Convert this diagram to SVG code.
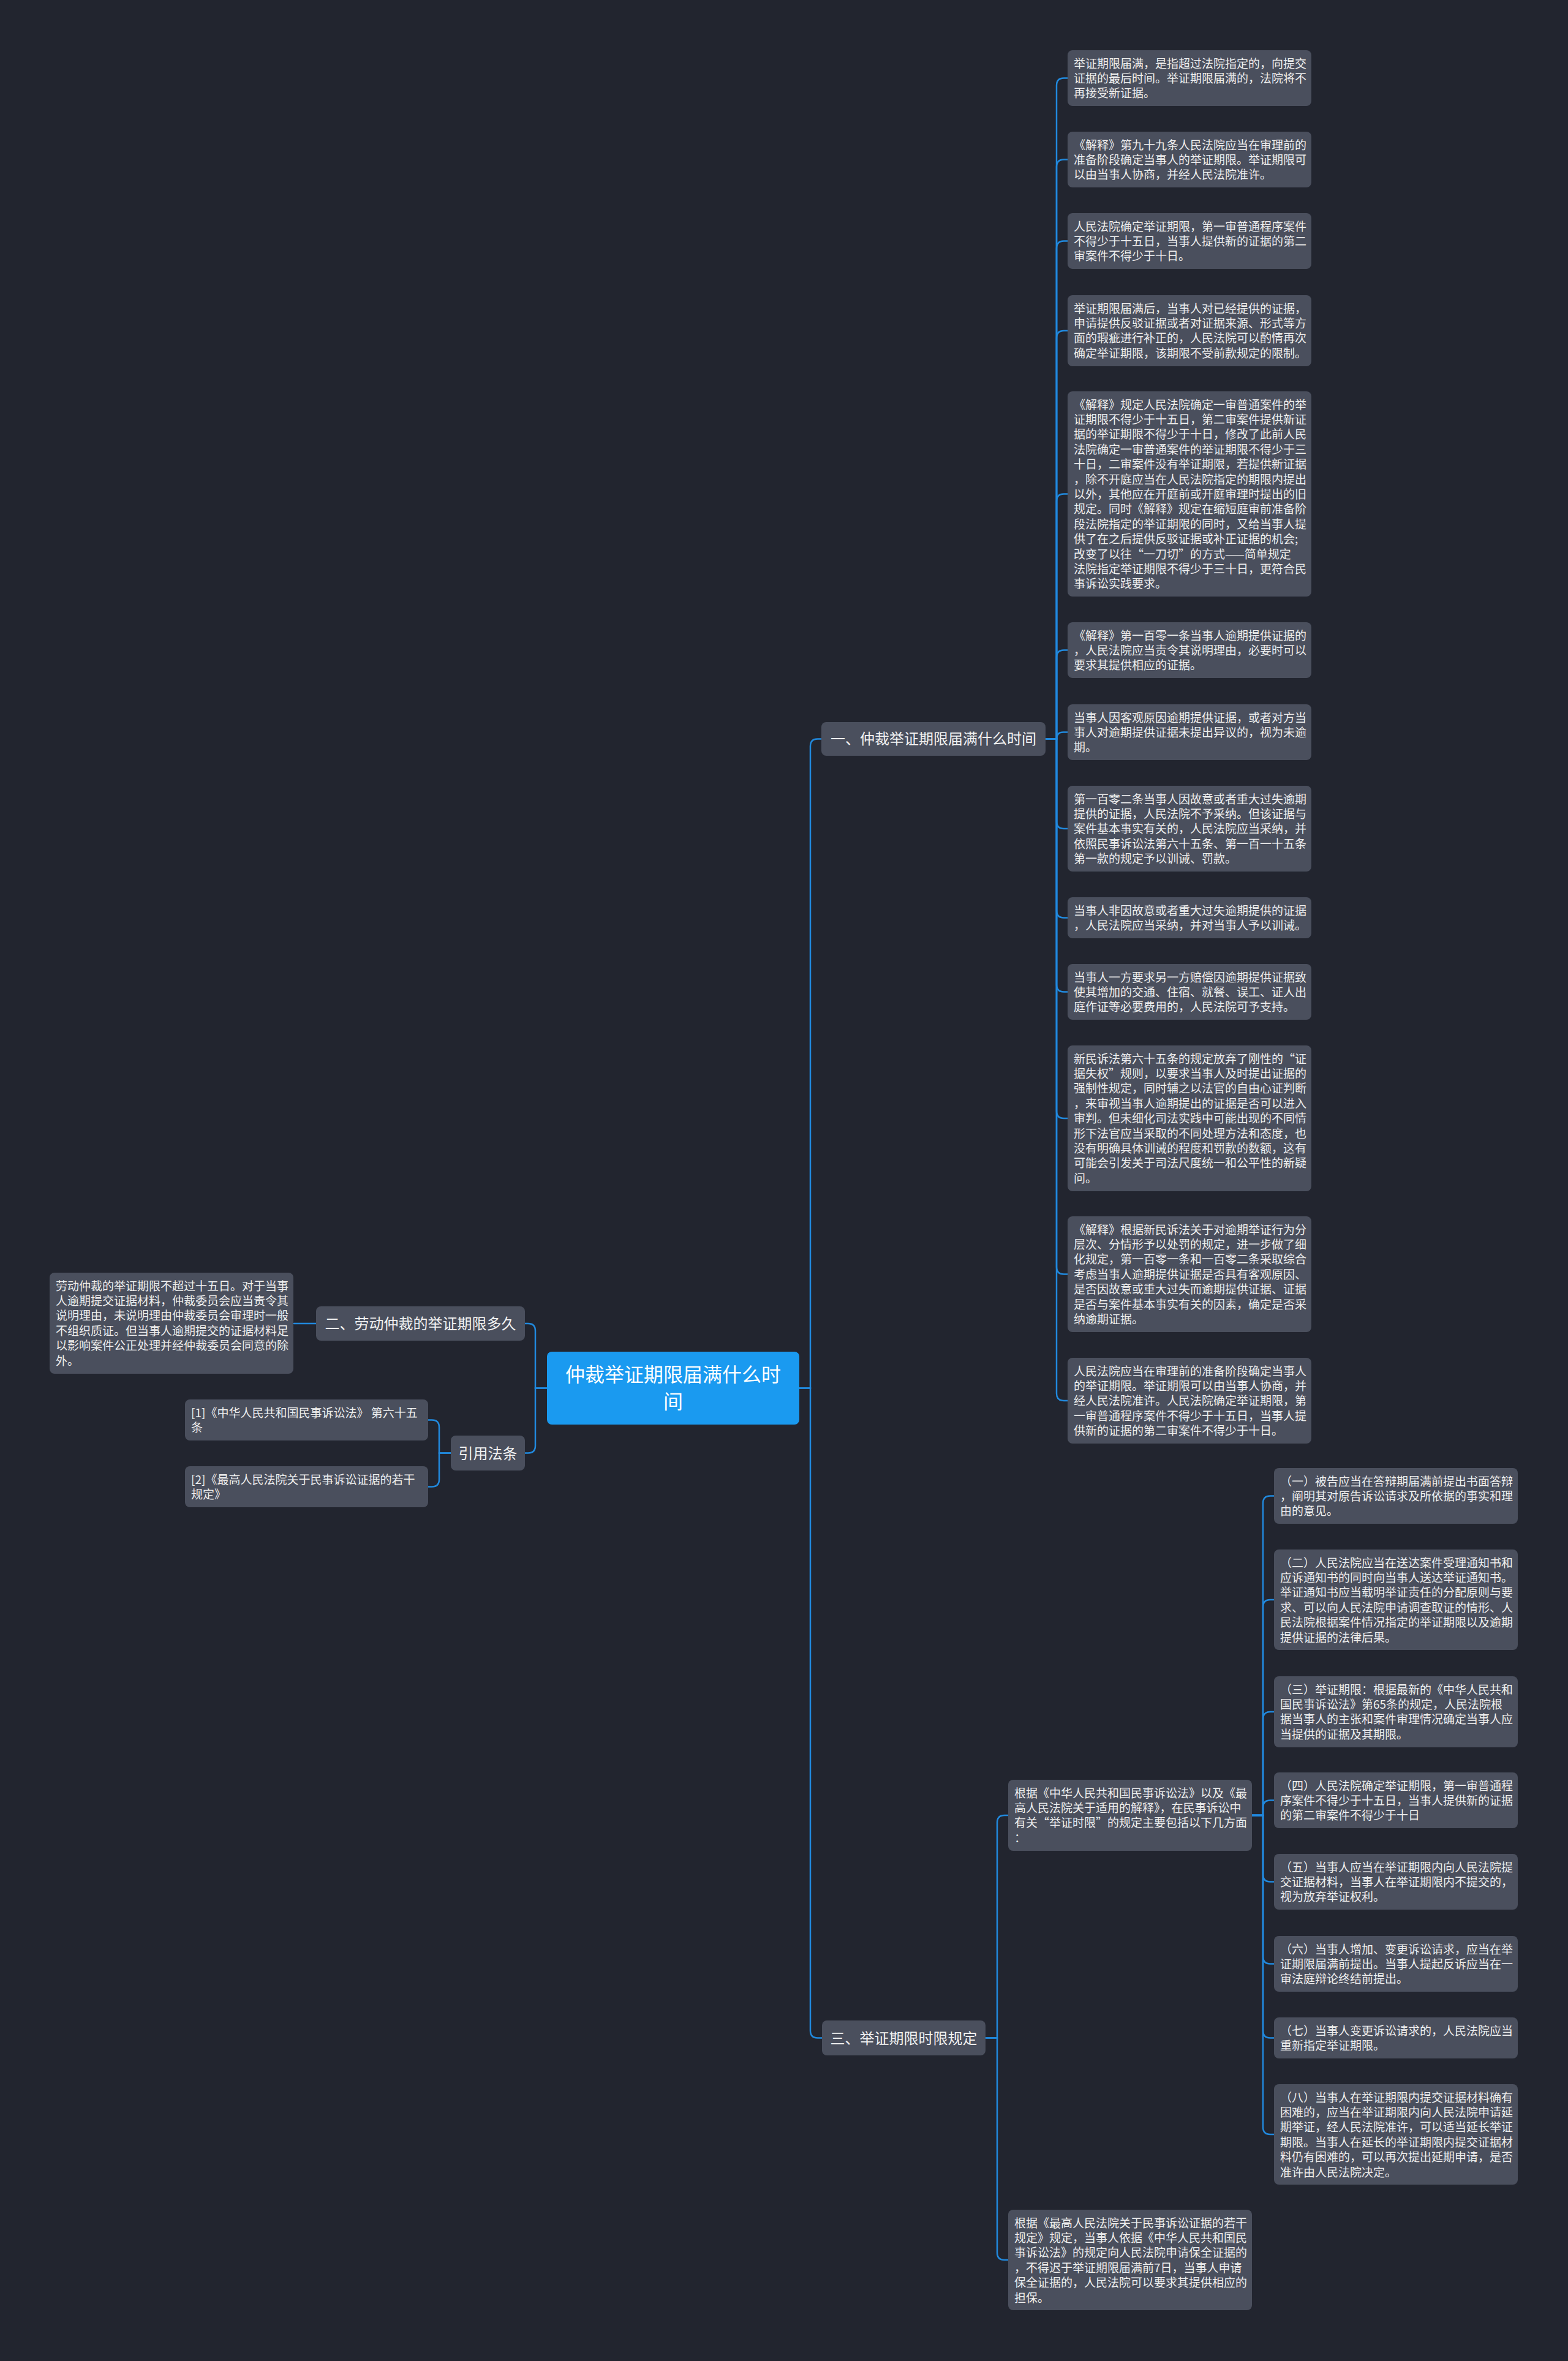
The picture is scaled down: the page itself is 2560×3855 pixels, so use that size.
<svg xmlns="http://www.w3.org/2000/svg" width="2560" height="3855" viewBox="0 0 2560 3855">
<style>
.bg{fill:#22252f}
.box{fill:#4a4f5d}
.root{fill:#1a9af0}
.t{font-family:"Noto Sans CJK SC","Liberation Sans",sans-serif;font-size:19px;fill:#eeeeee}
.b{font-family:"Noto Sans CJK SC","Liberation Sans",sans-serif;font-size:24px;fill:#f2f2f2}
.r{font-family:"Noto Sans CJK SC","Liberation Sans",sans-serif;font-size:32px;fill:#ffffff}
.c path{fill:none;stroke:#2189dd;stroke-width:2.5;stroke-linecap:round}
</style>
<rect class="bg" x="0" y="0" width="2560" height="3855"/>
<g class="c" id="connectors">
<path d="M1305,2266.5H1323V1218.5Q1323,1206.5 1335,1206.5H1341"/>
<path d="M1305,2266.5H1323V3315.5Q1323,3327.5 1335,3327.5H1342"/>
<path d="M893,2266.5H874V2173Q874,2161 862,2161H857"/>
<path d="M893,2266.5H874V2360.5Q874,2372.5 862,2372.5H857"/>
<path d="M480,2161H516"/>
<path d="M736,2372.5H717V2330.5Q717,2318.5 705,2318.5H699"/>
<path d="M736,2372.5H717V2415.5Q717,2427.5 705,2427.5H699"/>
<path d="M1707,1206.5H1725V139.5Q1725,127.5 1737,127.5H1743"/>
<path d="M1707,1206.5H1725V272.5Q1725,260.5 1737,260.5H1743"/>
<path d="M1707,1206.5H1725V405.5Q1725,393.5 1737,393.5H1743"/>
<path d="M1707,1206.5H1725V552Q1725,540 1737,540H1743"/>
<path d="M1707,1206.5H1725V818.5Q1725,806.5 1737,806.5H1743"/>
<path d="M1707,1206.5H1725V1073.5Q1725,1061.5 1737,1061.5H1743"/>
<path d="M1707,1206.5H1725Q1725,1195.5 1736,1195.5H1743"/>
<path d="M1707,1206.5H1725V1341Q1725,1353 1737,1353H1743"/>
<path d="M1707,1206.5H1725V1486.5Q1725,1498.5 1737,1498.5H1743"/>
<path d="M1707,1206.5H1725V1607.5Q1725,1619.5 1737,1619.5H1743"/>
<path d="M1707,1206.5H1725V1814Q1725,1826 1737,1826H1743"/>
<path d="M1707,1206.5H1725V2068.5Q1725,2080.5 1737,2080.5H1743"/>
<path d="M1707,1206.5H1725V2275Q1725,2287 1737,2287H1743"/>
<path d="M1609,3327.5H1628V2976Q1628,2964 1640,2964H1646"/>
<path d="M1609,3327.5H1628V3678Q1628,3690 1640,3690H1646"/>
<path d="M2044,2964H2062V2454.5Q2062,2442.5 2074,2442.5H2080"/>
<path d="M2044,2964H2062V2624Q2062,2612 2074,2612H2080"/>
<path d="M2044,2964H2062V2807Q2062,2795 2074,2795H2080"/>
<path d="M2044,2964H2062V2951.5Q2062,2939.5 2074,2939.5H2080"/>
<path d="M2044,2964H2062V3060.5Q2062,3072.5 2074,3072.5H2080"/>
<path d="M2044,2964H2062V3194.5Q2062,3206.5 2074,3206.5H2080"/>
<path d="M2044,2964H2062V3315.5Q2062,3327.5 2074,3327.5H2080"/>
<path d="M2044,2964H2062V3473Q2062,3485 2074,3485H2080"/>
</g>

<g id="root">
<rect class="root" x="893" y="2207" width="412" height="119" rx="8"/>
<text class="r" text-anchor="middle"><tspan x="1099" y="2256">仲裁举证期限届满什么时</tspan><tspan x="1099" y="2300">间</tspan></text>
</g>

<g id="branch1">
<rect class="box" x="1341" y="1179" width="366" height="55" rx="8"/>
<text class="b" x="1524" y="1215" text-anchor="middle">一、仲裁举证期限届满什么时间</text>
</g>
<g id="branch2">
<rect class="box" x="516" y="2133" width="341" height="56" rx="8"/>
<text class="b" x="686.5" y="2170" text-anchor="middle">二、劳动仲裁的举证期限多久</text>
</g>
<g id="branch-cite">
<rect class="box" x="736" y="2344" width="121" height="57" rx="8"/>
<text class="b" x="796.5" y="2381.5" text-anchor="middle">引用法条</text>
</g>
<g id="branch3">
<rect class="box" x="1342" y="3299" width="267" height="57" rx="8"/>
<text class="b" x="1475.5" y="3336.5" text-anchor="middle">三、举证期限时限规定</text>
</g>

<g id="labor">
<rect class="box" x="81" y="2078" width="398" height="165" rx="8"/>
<text class="t"><tspan x="91" y="2106.5">劳动仲裁的举证期限不超过十五日。对于当事</tspan><tspan x="91" dy="24.4">人逾期提交证据材料，仲裁委员会应当责令其</tspan><tspan x="91" dy="24.4">说明理由，未说明理由仲裁委员会审理时一般</tspan><tspan x="91" dy="24.4">不组织质证。但当事人逾期提交的证据材料足</tspan><tspan x="91" dy="24.4">以影响案件公正处理并经仲裁委员会同意的除</tspan><tspan x="91" dy="24.4">外。</tspan></text>
</g>
<g id="cite1">
<rect class="box" x="302" y="2285" width="397" height="67" rx="8"/>
<text class="t"><tspan x="312" y="2313.5">[1]《中华人民共和国民事诉讼法》 第六十五</tspan><tspan x="312" dy="24.4">条</tspan></text>
</g>
<g id="cite2">
<rect class="box" x="302" y="2394" width="397" height="67" rx="8"/>
<text class="t"><tspan x="312" y="2422.5">[2]《最高人民法院关于民事诉讼证据的若干</tspan><tspan x="312" dy="24.4">规定》</tspan></text>
</g>

<g id="n1">
<rect class="box" x="1743" y="82" width="398" height="91" rx="8"/>
<text class="t"><tspan x="1753" y="110.5">举证期限届满，是指超过法院指定的，向提交</tspan><tspan x="1753" dy="24.4">证据的最后时间。举证期限届满的，法院将不</tspan><tspan x="1753" dy="24.4">再接受新证据。</tspan></text>
</g>
<g id="n2">
<rect class="box" x="1743" y="215" width="398" height="91" rx="8"/>
<text class="t"><tspan x="1753" y="243.5">《解释》第九十九条人民法院应当在审理前的</tspan><tspan x="1753" dy="24.4">准备阶段确定当事人的举证期限。举证期限可</tspan><tspan x="1753" dy="24.4">以由当事人协商，并经人民法院准许。</tspan></text>
</g>
<g id="n3">
<rect class="box" x="1743" y="348" width="398" height="91" rx="8"/>
<text class="t"><tspan x="1753" y="376.5">人民法院确定举证期限，第一审普通程序案件</tspan><tspan x="1753" dy="24.4">不得少于十五日，当事人提供新的证据的第二</tspan><tspan x="1753" dy="24.4">审案件不得少于十日。</tspan></text>
</g>
<g id="n4">
<rect class="box" x="1743" y="482" width="398" height="116" rx="8"/>
<text class="t"><tspan x="1753" y="510.5">举证期限届满后，当事人对已经提供的证据，</tspan><tspan x="1753" dy="24.4">申请提供反驳证据或者对证据来源、形式等方</tspan><tspan x="1753" dy="24.4">面的瑕疵进行补正的，人民法院可以酌情再次</tspan><tspan x="1753" dy="24.4">确定举证期限，该期限不受前款规定的限制。</tspan></text>
</g>
<g id="n5">
<rect class="box" x="1743" y="639" width="398" height="335" rx="8"/>
<text class="t"><tspan x="1753" y="667.5">《解释》规定人民法院确定一审普通案件的举</tspan><tspan x="1753" dy="24.4">证期限不得少于十五日，第二审案件提供新证</tspan><tspan x="1753" dy="24.4">据的举证期限不得少于十日，修改了此前人民</tspan><tspan x="1753" dy="24.4">法院确定一审普通案件的举证期限不得少于三</tspan><tspan x="1753" dy="24.4">十日，二审案件没有举证期限，若提供新证据</tspan><tspan x="1753" dy="24.4">，除不开庭应当在人民法院指定的期限内提出</tspan><tspan x="1753" dy="24.4">以外，其他应在开庭前或开庭审理时提出的旧</tspan><tspan x="1753" dy="24.4">规定。同时《解释》规定在缩短庭审前准备阶</tspan><tspan x="1753" dy="24.4">段法院指定的举证期限的同时，又给当事人提</tspan><tspan x="1753" dy="24.4">供了在之后提供反驳证据或补正证据的机会;</tspan><tspan x="1753" dy="24.4">改变了以往“一刀切”的方式——简单规定</tspan><tspan x="1753" dy="24.4">法院指定举证期限不得少于三十日，更符合民</tspan><tspan x="1753" dy="24.4">事诉讼实践要求。</tspan></text>
</g>
<g id="n6">
<rect class="box" x="1743" y="1016" width="398" height="91" rx="8"/>
<text class="t"><tspan x="1753" y="1044.5">《解释》第一百零一条当事人逾期提供证据的</tspan><tspan x="1753" dy="24.4">，人民法院应当责令其说明理由，必要时可以</tspan><tspan x="1753" dy="24.4">要求其提供相应的证据。</tspan></text>
</g>
<g id="n7">
<rect class="box" x="1743" y="1150" width="398" height="91" rx="8"/>
<text class="t"><tspan x="1753" y="1178.5">当事人因客观原因逾期提供证据，或者对方当</tspan><tspan x="1753" dy="24.4">事人对逾期提供证据未提出异议的，视为未逾</tspan><tspan x="1753" dy="24.4">期。</tspan></text>
</g>
<g id="n8">
<rect class="box" x="1743" y="1283" width="398" height="140" rx="8"/>
<text class="t"><tspan x="1753" y="1311.5">第一百零二条当事人因故意或者重大过失逾期</tspan><tspan x="1753" dy="24.4">提供的证据，人民法院不予采纳。但该证据与</tspan><tspan x="1753" dy="24.4">案件基本事实有关的，人民法院应当采纳，并</tspan><tspan x="1753" dy="24.4">依照民事诉讼法第六十五条、第一百一十五条</tspan><tspan x="1753" dy="24.4">第一款的规定予以训诫、罚款。</tspan></text>
</g>
<g id="n9">
<rect class="box" x="1743" y="1465" width="398" height="67" rx="8"/>
<text class="t"><tspan x="1753" y="1493.5">当事人非因故意或者重大过失逾期提供的证据</tspan><tspan x="1753" dy="24.4">，人民法院应当采纳，并对当事人予以训诫。</tspan></text>
</g>
<g id="n10">
<rect class="box" x="1743" y="1574" width="398" height="91" rx="8"/>
<text class="t"><tspan x="1753" y="1602.5">当事人一方要求另一方赔偿因逾期提供证据致</tspan><tspan x="1753" dy="24.4">使其增加的交通、住宿、就餐、误工、证人出</tspan><tspan x="1753" dy="24.4">庭作证等必要费用的，人民法院可予支持。</tspan></text>
</g>
<g id="n11">
<rect class="box" x="1743" y="1707" width="398" height="238" rx="8"/>
<text class="t"><tspan x="1753" y="1735.5">新民诉法第六十五条的规定放弃了刚性的“证</tspan><tspan x="1753" dy="24.4">据失权”规则，以要求当事人及时提出证据的</tspan><tspan x="1753" dy="24.4">强制性规定，同时辅之以法官的自由心证判断</tspan><tspan x="1753" dy="24.4">，来审视当事人逾期提出的证据是否可以进入</tspan><tspan x="1753" dy="24.4">审判。但未细化司法实践中可能出现的不同情</tspan><tspan x="1753" dy="24.4">形下法官应当采取的不同处理方法和态度，也</tspan><tspan x="1753" dy="24.4">没有明确具体训诫的程度和罚款的数额，这有</tspan><tspan x="1753" dy="24.4">可能会引发关于司法尺度统一和公平性的新疑</tspan><tspan x="1753" dy="24.4">问。</tspan></text>
</g>
<g id="n12">
<rect class="box" x="1743" y="1986" width="398" height="189" rx="8"/>
<text class="t"><tspan x="1753" y="2014.5">《解释》根据新民诉法关于对逾期举证行为分</tspan><tspan x="1753" dy="24.4">层次、分情形予以处罚的规定，进一步做了细</tspan><tspan x="1753" dy="24.4">化规定，第一百零一条和一百零二条采取综合</tspan><tspan x="1753" dy="24.4">考虑当事人逾期提供证据是否具有客观原因、</tspan><tspan x="1753" dy="24.4">是否因故意或重大过失而逾期提供证据、证据</tspan><tspan x="1753" dy="24.4">是否与案件基本事实有关的因素，确定是否采</tspan><tspan x="1753" dy="24.4">纳逾期证据。</tspan></text>
</g>
<g id="n13">
<rect class="box" x="1743" y="2217" width="398" height="140" rx="8"/>
<text class="t"><tspan x="1753" y="2245.5">人民法院应当在审理前的准备阶段确定当事人</tspan><tspan x="1753" dy="24.4">的举证期限。举证期限可以由当事人协商，并</tspan><tspan x="1753" dy="24.4">经人民法院准许。人民法院确定举证期限，第</tspan><tspan x="1753" dy="24.4">一审普通程序案件不得少于十五日，当事人提</tspan><tspan x="1753" dy="24.4">供新的证据的第二审案件不得少于十日。</tspan></text>
</g>

<g id="nodeA">
<rect class="box" x="1646" y="2906" width="398" height="116" rx="8"/>
<text class="t"><tspan x="1656" y="2934.5">根据《中华人民共和国民事诉讼法》以及《最</tspan><tspan x="1656" dy="24.4">高人民法院关于适用的解释》，在民事诉讼中</tspan><tspan x="1656" dy="24.4">有关“举证时限”的规定主要包括以下几方面</tspan><tspan x="1656" dy="24.4">：</tspan></text>
</g>
<g id="nodeB">
<rect class="box" x="1646" y="3608" width="398" height="164" rx="8"/>
<text class="t"><tspan x="1656" y="3636.5">根据《最高人民法院关于民事诉讼证据的若干</tspan><tspan x="1656" dy="24.4">规定》规定，当事人依据《中华人民共和国民</tspan><tspan x="1656" dy="24.4">事诉讼法》的规定向人民法院申请保全证据的</tspan><tspan x="1656" dy="24.4">，不得迟于举证期限届满前7日，当事人申请</tspan><tspan x="1656" dy="24.4">保全证据的，人民法院可以要求其提供相应的</tspan><tspan x="1656" dy="24.4">担保。</tspan></text>
</g>

<g id="c1">
<rect class="box" x="2080" y="2397" width="398" height="91" rx="8"/>
<text class="t"><tspan x="2090" y="2425.5">（一）被告应当在答辩期届满前提出书面答辩</tspan><tspan x="2090" dy="24.4">，阐明其对原告诉讼请求及所依据的事实和理</tspan><tspan x="2090" dy="24.4">由的意见。</tspan></text>
</g>
<g id="c2">
<rect class="box" x="2080" y="2530" width="398" height="164" rx="8"/>
<text class="t"><tspan x="2090" y="2558.5">（二）人民法院应当在送达案件受理通知书和</tspan><tspan x="2090" dy="24.4">应诉通知书的同时向当事人送达举证通知书。</tspan><tspan x="2090" dy="24.4">举证通知书应当载明举证责任的分配原则与要</tspan><tspan x="2090" dy="24.4">求、可以向人民法院申请调查取证的情形、人</tspan><tspan x="2090" dy="24.4">民法院根据案件情况指定的举证期限以及逾期</tspan><tspan x="2090" dy="24.4">提供证据的法律后果。</tspan></text>
</g>
<g id="c3">
<rect class="box" x="2080" y="2737" width="398" height="116" rx="8"/>
<text class="t"><tspan x="2090" y="2765.5">（三）举证期限：根据最新的《中华人民共和</tspan><tspan x="2090" dy="24.4">国民事诉讼法》第65条的规定，人民法院根</tspan><tspan x="2090" dy="24.4">据当事人的主张和案件审理情况确定当事人应</tspan><tspan x="2090" dy="24.4">当提供的证据及其期限。</tspan></text>
</g>
<g id="c4">
<rect class="box" x="2080" y="2894" width="398" height="91" rx="8"/>
<text class="t"><tspan x="2090" y="2922.5">（四）人民法院确定举证期限，第一审普通程</tspan><tspan x="2090" dy="24.4">序案件不得少于十五日，当事人提供新的证据</tspan><tspan x="2090" dy="24.4">的第二审案件不得少于十日</tspan></text>
</g>
<g id="c5">
<rect class="box" x="2080" y="3027" width="398" height="91" rx="8"/>
<text class="t"><tspan x="2090" y="3055.5">（五）当事人应当在举证期限内向人民法院提</tspan><tspan x="2090" dy="24.4">交证据材料，当事人在举证期限内不提交的，</tspan><tspan x="2090" dy="24.4">视为放弃举证权利。</tspan></text>
</g>
<g id="c6">
<rect class="box" x="2080" y="3161" width="398" height="91" rx="8"/>
<text class="t"><tspan x="2090" y="3189.5">（六）当事人增加、变更诉讼请求，应当在举</tspan><tspan x="2090" dy="24.4">证期限届满前提出。当事人提起反诉应当在一</tspan><tspan x="2090" dy="24.4">审法庭辩论终结前提出。</tspan></text>
</g>
<g id="c7">
<rect class="box" x="2080" y="3294" width="398" height="67" rx="8"/>
<text class="t"><tspan x="2090" y="3322.5">（七）当事人变更诉讼请求的，人民法院应当</tspan><tspan x="2090" dy="24.4">重新指定举证期限。</tspan></text>
</g>
<g id="c8">
<rect class="box" x="2080" y="3403" width="398" height="164" rx="8"/>
<text class="t"><tspan x="2090" y="3431.5">（八）当事人在举证期限内提交证据材料确有</tspan><tspan x="2090" dy="24.4">困难的，应当在举证期限内向人民法院申请延</tspan><tspan x="2090" dy="24.4">期举证，经人民法院准许，可以适当延长举证</tspan><tspan x="2090" dy="24.4">期限。当事人在延长的举证期限内提交证据材</tspan><tspan x="2090" dy="24.4">料仍有困难的，可以再次提出延期申请，是否</tspan><tspan x="2090" dy="24.4">准许由人民法院决定。</tspan></text>
</g>
</svg>
